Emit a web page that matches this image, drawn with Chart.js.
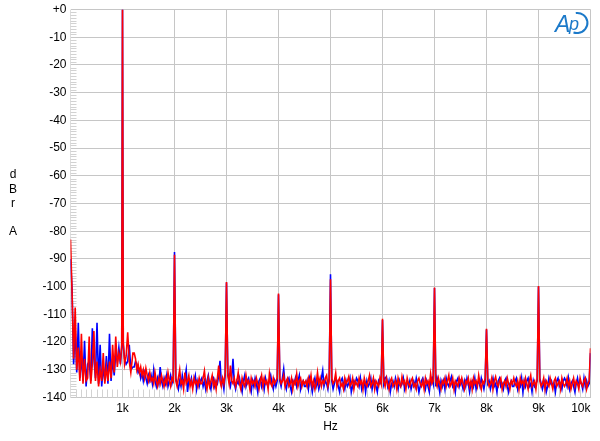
<!DOCTYPE html>
<html>
<head>
<meta charset="utf-8">
<script src="https://cdn.jsdelivr.net/npm/chart.js@4.4.1/dist/chart.umd.min.js"></script>
<style>
  html, body { margin: 0; padding: 0; background: #fff; }
  #wrap { width: 600px; height: 441px; }
</style>
</head>
<body>
<div id="wrap"><canvas id="fft" width="600" height="441"></canvas></div>
<script>
// FFT spectrum, frequency bins in Hz
var freqs = [
  0, 30, 60, 90, 120, 150, 180, 210, 240, 270, 300, 330, 360, 390, 420, 450, 480, 510, 540, 570, 600,
  630, 660, 690, 720, 750, 780, 810, 840, 870, 900, 930, 960, 985, 1000, 1015, 1040, 1070, 1100, 1130, 1160, 1200,
  1225, 1250, 1275, 1300, 1325, 1350, 1375, 1400, 1425, 1450, 1475, 1500,
  1525, 1550, 1575, 1600, 1625, 1650, 1675, 1700, 1725, 1750, 1775, 1800, 1825, 1850, 1875, 1900, 1925, 1950, 1975, 2000,
  2025, 2050, 2075, 2100, 2125, 2150, 2175, 2200, 2225, 2250, 2275, 2300, 2325, 2350, 2375, 2400, 2425, 2450, 2475, 2500,
  2525, 2550, 2575, 2600, 2625, 2650, 2675, 2700, 2725, 2750, 2775, 2800, 2825, 2850, 2875, 2900, 2925, 2950, 2975, 3000,
  3025, 3050, 3075, 3100, 3125, 3150, 3175, 3200, 3225, 3250, 3275, 3300, 3325, 3350, 3375, 3400, 3425, 3450, 3475, 3500,
  3525, 3550, 3575, 3600, 3625, 3650, 3675, 3700, 3725, 3750, 3775, 3800, 3825, 3850, 3875, 3900, 3925, 3950, 3975, 4000,
  4025, 4050, 4075, 4100, 4125, 4150, 4175, 4200, 4225, 4250, 4275, 4300, 4325, 4350, 4375, 4400, 4425, 4450, 4475, 4500,
  4525, 4550, 4575, 4600, 4625, 4650, 4675, 4700, 4725, 4750, 4775, 4800, 4825, 4850, 4875, 4900, 4925, 4950, 4975, 5000,
  5025, 5050, 5075, 5100, 5125, 5150, 5175, 5200, 5225, 5250, 5275, 5300, 5325, 5350, 5375, 5400, 5425, 5450, 5475, 5500,
  5525, 5550, 5575, 5600, 5625, 5650, 5675, 5700, 5725, 5750, 5775, 5800, 5825, 5850, 5875, 5900, 5925, 5950, 5975, 6000,
  6025, 6050, 6075, 6100, 6125, 6150, 6175, 6200, 6225, 6250, 6275, 6300, 6325, 6350, 6375, 6400, 6425, 6450, 6475, 6500,
  6525, 6550, 6575, 6600, 6625, 6650, 6675, 6700, 6725, 6750, 6775, 6800, 6825, 6850, 6875, 6900, 6925, 6950, 6975, 7000,
  7025, 7050, 7075, 7100, 7125, 7150, 7175, 7200, 7225, 7250, 7275, 7300, 7325, 7350, 7375, 7400, 7425, 7450, 7475, 7500,
  7525, 7550, 7575, 7600, 7625, 7650, 7675, 7700, 7725, 7750, 7775, 7800, 7825, 7850, 7875, 7900, 7925, 7950, 7975, 8000,
  8025, 8050, 8075, 8100, 8125, 8150, 8175, 8200, 8225, 8250, 8275, 8300, 8325, 8350, 8375, 8400, 8425, 8450, 8475, 8500,
  8525, 8550, 8575, 8600, 8625, 8650, 8675, 8700, 8725, 8750, 8775, 8800, 8825, 8850, 8875, 8900, 8925, 8950, 8975, 9000,
  9025, 9050, 9075, 9100, 9125, 9150, 9175, 9200, 9225, 9250, 9275, 9300, 9325, 9350, 9375, 9400, 9425, 9450, 9475, 9500,
  9525, 9550, 9575, 9600, 9625, 9650, 9675, 9700, 9725, 9750, 9775, 9800, 9825, 9850, 9875, 9900, 9925, 9950, 9975, 10000
];

// red channel, dBr A
var redDb = [
  -83, -102, -126, -107.5, -130, -122, -134, -117, -135, -126, -134, -133, -118, -135, -128, -116, -134, -127, -136, -130, -134,
  -124, -135, -129, -134, -127, -133, -121, -131, -118, -129, -124, -127, -121, 0, -120, -128, -125, -116.5, -127, -131, -124,
  -124, -126, -130, -128, -131, -129, -132, -130, -133, -129.5, -132, -134,
  -131, -134, -133, -135, -131, -134, -136, -133, -135, -132, -134, -136, -133, -135, -131, -134, -136, -133, -134, -88.5,
  -134, -136, -133, -130, -135, -134, -137, -131, -135, -134, -132, -136, -134, -137, -133, -135, -134, -136, -133, -135,
  -135, -133, -130.4, -135, -137, -133, -136, -134, -132, -136, -134, -137, -133, -128.5, -134, -136, -133, -135, -131, -98.3,
  -132, -135, -128.5, -134, -135, -133, -136, -134, -131, -135, -137, -133, -135, -136, -132, -135, -134, -137, -133, -135,
  -134, -136, -133, -135, -137, -134, -132, -136, -133, -135, -134, -137, -131.5, -135, -136, -133, -135, -134, -133, -102.5,
  -133, -135, -134, -132, -136, -134, -133, -136, -135, -133, -137, -134, -135, -131.5, -136, -134, -133, -136, -134, -135,
  -134, -136, -133, -135, -132, -136, -134, -137, -135, -131, -135, -133, -136, -134, -135, -133, -132, -136, -134, -97.3,
  -133, -135, -134, -131.2, -136, -134, -133, -136, -135, -137, -133, -135, -134, -132.5, -136, -135, -133, -137, -134, -135,
  -136, -133, -135, -134, -137, -133, -135, -136, -134, -132, -136, -135, -133, -137, -134, -135, -136, -133, -135, -111.6,
  -134, -136, -133, -135, -137, -134, -133, -136, -135, -134, -137, -133, -135, -136, -132.5, -135, -134, -137, -133, -135,
  -136, -134, -133, -136, -135, -137, -134, -133, -135, -136, -134, -137, -133, -135, -134, -136, -131.5, -135, -134, -100.3,
  -134, -136, -133, -135, -137, -134, -135, -133, -136, -134, -132, -136, -135, -133, -137, -134, -135, -136, -133, -135,
  -133, -135, -137, -134, -135, -133, -136, -134, -137, -133, -135, -134, -136, -132, -135, -137, -134, -135, -133, -115.2,
  -134, -136, -135, -133, -137, -134, -132.5, -135, -136, -134, -133, -137, -135, -134, -136, -133, -135, -137, -134, -135,
  -133, -135, -136, -134, -137, -133, -135, -134, -136, -133, -135, -137, -134, -132, -136, -135, -134, -137, -133, -99.8,
  -134, -136, -135, -133, -137, -134, -135, -136, -133, -135, -137, -134, -133, -136, -135, -134, -137, -133, -135, -136,
  -135, -133, -136, -134, -137, -135, -133, -136, -134, -135, -137, -133, -135, -136, -134, -133, -137, -135, -134, -122.2
];

// blue channel, dBr A
var blueDb = [
  -90, -101, -128, -115, -131, -113, -133, -125, -134, -119.5, -136, -128, -127, -134, -115, -126, -133, -113, -135, -121, -136,
  -129, -134, -125, -135, -117, -134, -126, -132, -124, -127, -122, -128, -122, 0, -121, -126, -128, -127, -121, -130, -129,
  -129, -127, -128, -131, -130, -133, -131, -134, -131, -133, -135, -132,
  -134, -132, -135, -130, -134, -136, -133, -135, -129, -134, -136, -133, -135, -132, -136, -134, -132, -135, -133, -87.5,
  -133, -135, -137, -134, -136, -132, -135, -133, -130, -138, -134, -135, -133, -136, -134, -132, -137, -134, -136, -134,
  -133, -136, -134, -137, -134, -132, -135, -137, -134, -133, -136, -134, -135, -132, -126.8, -135, -134, -137, -132, -98.5,
  -131, -134, -136, -133, -126, -135, -137, -134, -135, -133, -136, -138, -134, -132, -136, -134, -133, -136, -138, -134,
  -136, -133, -135, -138, -134, -133, -136, -134, -137, -133, -135, -136, -134, -132, -135, -137, -134, -136, -134, -102.8,
  -134, -136, -133, -129.7, -135, -137, -134, -133, -136, -138, -134, -135, -133, -136, -134, -132, -137, -135, -134, -136,
  -136, -134, -137, -133, -135, -138, -135, -133, -136, -134, -137, -135, -133, -130.3, -136, -134, -135, -137, -133, -95.5,
  -134, -137, -135, -133, -134, -136, -138, -134, -133, -135, -137, -134, -136, -135, -133, -138, -136, -134, -135, -133,
  -134, -136, -133, -137, -135, -134, -138, -134, -136, -135, -133, -137, -135, -134, -136, -138, -134, -135, -134, -112,
  -135, -133, -132.5, -136, -134, -138, -135, -134, -136, -133, -135, -137, -134, -136, -135, -133, -137, -135, -134, -136,
  -134, -137, -135, -134, -136, -133, -135, -138, -136, -134, -133, -135, -137, -134, -136, -138, -134, -133, -135, -100.5,
  -136, -133, -135, -138, -134, -136, -134, -137, -133, -135, -136, -134, -132.5, -136, -135, -138, -134, -133, -136, -134,
  -135, -137, -134, -136, -133, -135, -138, -135, -134, -136, -133, -137, -135, -134, -136, -133, -135, -137, -134, -115.5,
  -135, -134, -137, -135, -133, -136, -135, -138, -134, -133, -136, -135, -137, -134, -133, -136, -138, -135, -134, -136,
  -136, -134, -133, -137, -135, -136, -133, -138, -134, -136, -134, -133, -136, -135, -138, -134, -136, -135, -134, -100,
  -133, -135, -137, -135, -134, -138, -136, -133, -135, -134, -136, -135, -138, -134, -133, -136, -135, -137, -134, -133,
  -134, -136, -133, -137, -135, -134, -136, -138, -135, -133, -136, -134, -135, -137, -133, -136, -134, -136, -135, -124
];

var xTicks = [0, 1000, 2000, 3000, 4000, 5000, 6000, 7000, 8000, 9000, 10000];
var yLabelLetters = ['d', 'B', 'r', '', 'A'];

var FONT = '"Liberation Sans", Arial, sans-serif';
var GRID = '#c6c6c6';
Chart.defaults.font.family = FONT;
Chart.defaults.font.size = 12;
Chart.defaults.color = '#000';

function toPoints(vals) {
  return freqs.map(function (f, i) { return { x: f, y: vals[i] }; });
}

// minor ticks, the vertical "dBr A" label and the Ap logo
var extras = {
  id: 'extras',
  beforeDatasetsDraw: function (chart) {
    var ctx = chart.ctx, a = chart.chartArea, x = chart.scales.x, y = chart.scales.y;
    ctx.save();
    ctx.strokeStyle = '#d2d2d2';
    ctx.lineWidth = 1;
    ctx.beginPath();
    for (var v = -139; v < 0; v++) {
      if (v % 10 === 0) continue;
      var py = Math.round(y.getPixelForValue(v)) + 0.5;
      ctx.moveTo(a.left, py);
      ctx.lineTo(a.left + 6, py);
    }
    for (var f = 100; f < 10000; f += 100) {
      if (f % 1000 === 0) continue;
      var px = Math.round(x.getPixelForValue(f)) + 0.5;
      ctx.moveTo(px, a.bottom);
      ctx.lineTo(px, a.bottom - 8);
    }
    ctx.stroke();
    ctx.restore();
  },
  afterDraw: function (chart) {
    var ctx = chart.ctx;
    ctx.save();
    ctx.fillStyle = '#000';
    ctx.font = '12px ' + FONT;
    ctx.textAlign = 'center';
    ctx.textBaseline = 'middle';
    yLabelLetters.forEach(function (ch, i) {
      ctx.fillText(ch, 13, 175 + i * 14.2);
    });
    // logo
    ctx.fillStyle = '#1b79c9';
    ctx.strokeStyle = '#1b79c9';
    ctx.font = 'italic 23px ' + FONT;
    ctx.textAlign = 'left';
    ctx.textBaseline = 'alphabetic';
    ctx.fillText('A', 555, 32);
    ctx.font = 'italic 18px ' + FONT;
    ctx.fillText('p', 569, 30);
    ctx.lineWidth = 2;
    ctx.beginPath();
    ctx.ellipse(577, 23, 10.5, 10, -0.3, -1.4, 2.2);
    ctx.stroke();
    ctx.restore();
  }
};

var ctx = document.getElementById('fft').getContext('2d');
var chart = new Chart(ctx, {
  type: 'line',
  data: {
    datasets: [{
      label: 'Right',
      data: toPoints(redDb),
      borderColor: '#ff0000',
      borderWidth: 1.6,
      pointRadius: 0,
      tension: 0
    }, {
      label: 'Left',
      data: toPoints(blueDb),
      borderColor: '#0000ff',
      borderWidth: 1.6,
      pointRadius: 0,
      tension: 0
    }]
  },
  options: {
    responsive: false,
    animation: false,
    layout: { padding: { left: 0, right: 9.5, top: 9.5, bottom: 0 } },
    plugins: {
      legend: { display: false },
      tooltip: { enabled: false }
    },
    scales: {
      x: {
        type: 'linear',
        min: 0,
        max: 10000,
        afterBuildTicks: function (s) {
          s.ticks = xTicks.map(function (v) { return { value: v }; });
        },
        afterFit: function (s) {
          s.height = 43.5;
          s.paddingLeft = 0;
          s.paddingRight = 0;
        },
        ticks: {
          autoSkip: false,
          maxRotation: 0,
          align: 'inner',
          padding: 4,
          callback: function (v) { return v === 0 ? '' : (v / 1000) + 'k'; }
        },
        grid: {
          drawTicks: false,
          color: function (c) { return c.tick && c.tick.value === 0 ? '#dedede' : GRID; }
        },
        border: { display: false },
        title: {
          display: true,
          text: 'Hz',
          padding: { top: 0, bottom: 7 }
        }
      },
      y: {
        min: -140,
        max: 0,
        afterFit: function (s) {
          s.width = 70.5;
          s.paddingTop = 0;
          s.paddingBottom = 0;
        },
        ticks: {
          stepSize: 10,
          padding: 4,
          callback: function (v) { return v === 0 ? '+0' : v; }
        },
        grid: { drawTicks: false, color: GRID },
        border: { display: false }
      }
    }
  },
  plugins: [extras]
});
</script>
</body>
</html>
